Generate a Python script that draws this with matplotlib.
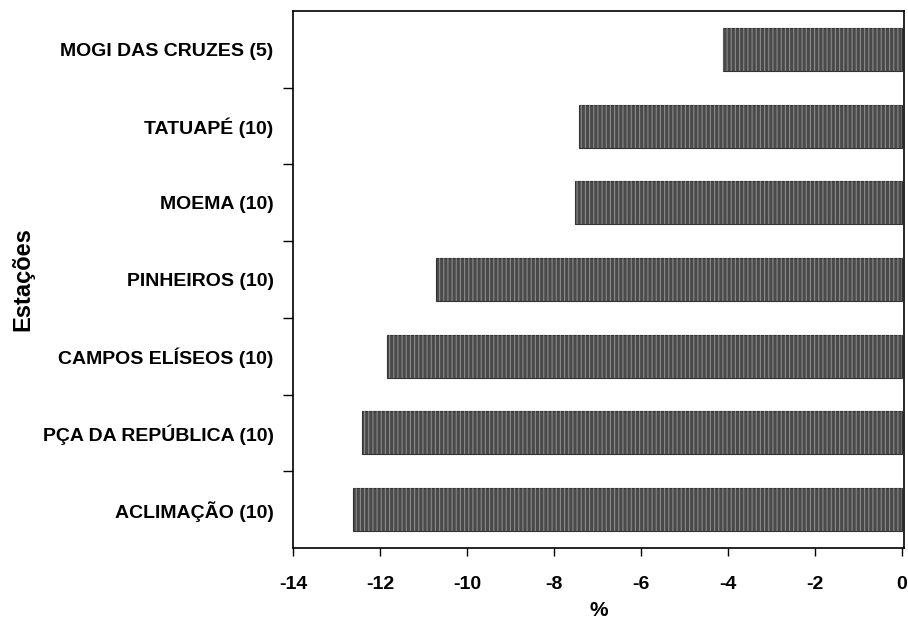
import matplotlib
matplotlib.use("Agg")
import matplotlib.pyplot as plt
import numpy as np

stations = ["ACLIMAÇÃO (10)", "PÇA DA REPÚBLICA (10)", "CAMPOS ELÍSEOS (10)",
            "PINHEIROS (10)", "MOEMA (10)", "TATUAPÉ (10)", "MOGI DAS CRUZES (5)"]
values = [-12.62, -12.41, -11.84, -10.71, -7.52, -7.42, -4.12]
xticks = [-14, -12, -10, -8, -6, -4, -2, 0]

plt.rcParams['font.family'] = ['Liberation Sans', 'DejaVu Sans']
plt.rcParams['hatch.linewidth'] = 0.8

fig = plt.figure(figsize=(9.08, 6.23), dpi=100)
ax = fig.add_axes([293/908, 1-548/623, (904-293)/908, (548-11)/623])

y = np.arange(len(stations))
ax.barh(y, values, height=0.56, color='#4a4a4a', edgecolor='#333333', linewidth=0.8, zorder=2)
ax.barh(y, values, height=0.56, color='none', edgecolor='#8a8a8a', hatch='||||', linewidth=0, zorder=3)

ax.set_xlim(-14, 0.05)
ax.set_ylim(-0.5, len(stations) - 0.5)

ax.set_xticks(xticks)
ax.set_xticklabels([str(t) for t in xticks], fontsize=14, fontweight='bold')
ax.set_yticks(y)
ax.set_yticklabels(stations, fontsize=14, fontweight='bold')
ax.tick_params(axis='y', which='major', length=0, pad=14)
ax.set_yticks(np.arange(0.5, len(stations) - 0.5, 1), minor=True)
ax.tick_params(axis='y', which='minor', length=7, width=1.0, direction='out')
ax.tick_params(axis='x', length=6, width=1.0, direction='out', pad=14)

for s in ax.spines.values():
    s.set_linewidth(1.2)

ax.set_xlabel('%', fontsize=15, fontweight='bold', labelpad=6)
ax.set_ylabel('Estações', fontsize=17, fontweight='bold', labelpad=0)
ax.yaxis.set_label_coords(-(293 - 34) / 611, 0.5)

fig.savefig('out.png', dpi=100)
